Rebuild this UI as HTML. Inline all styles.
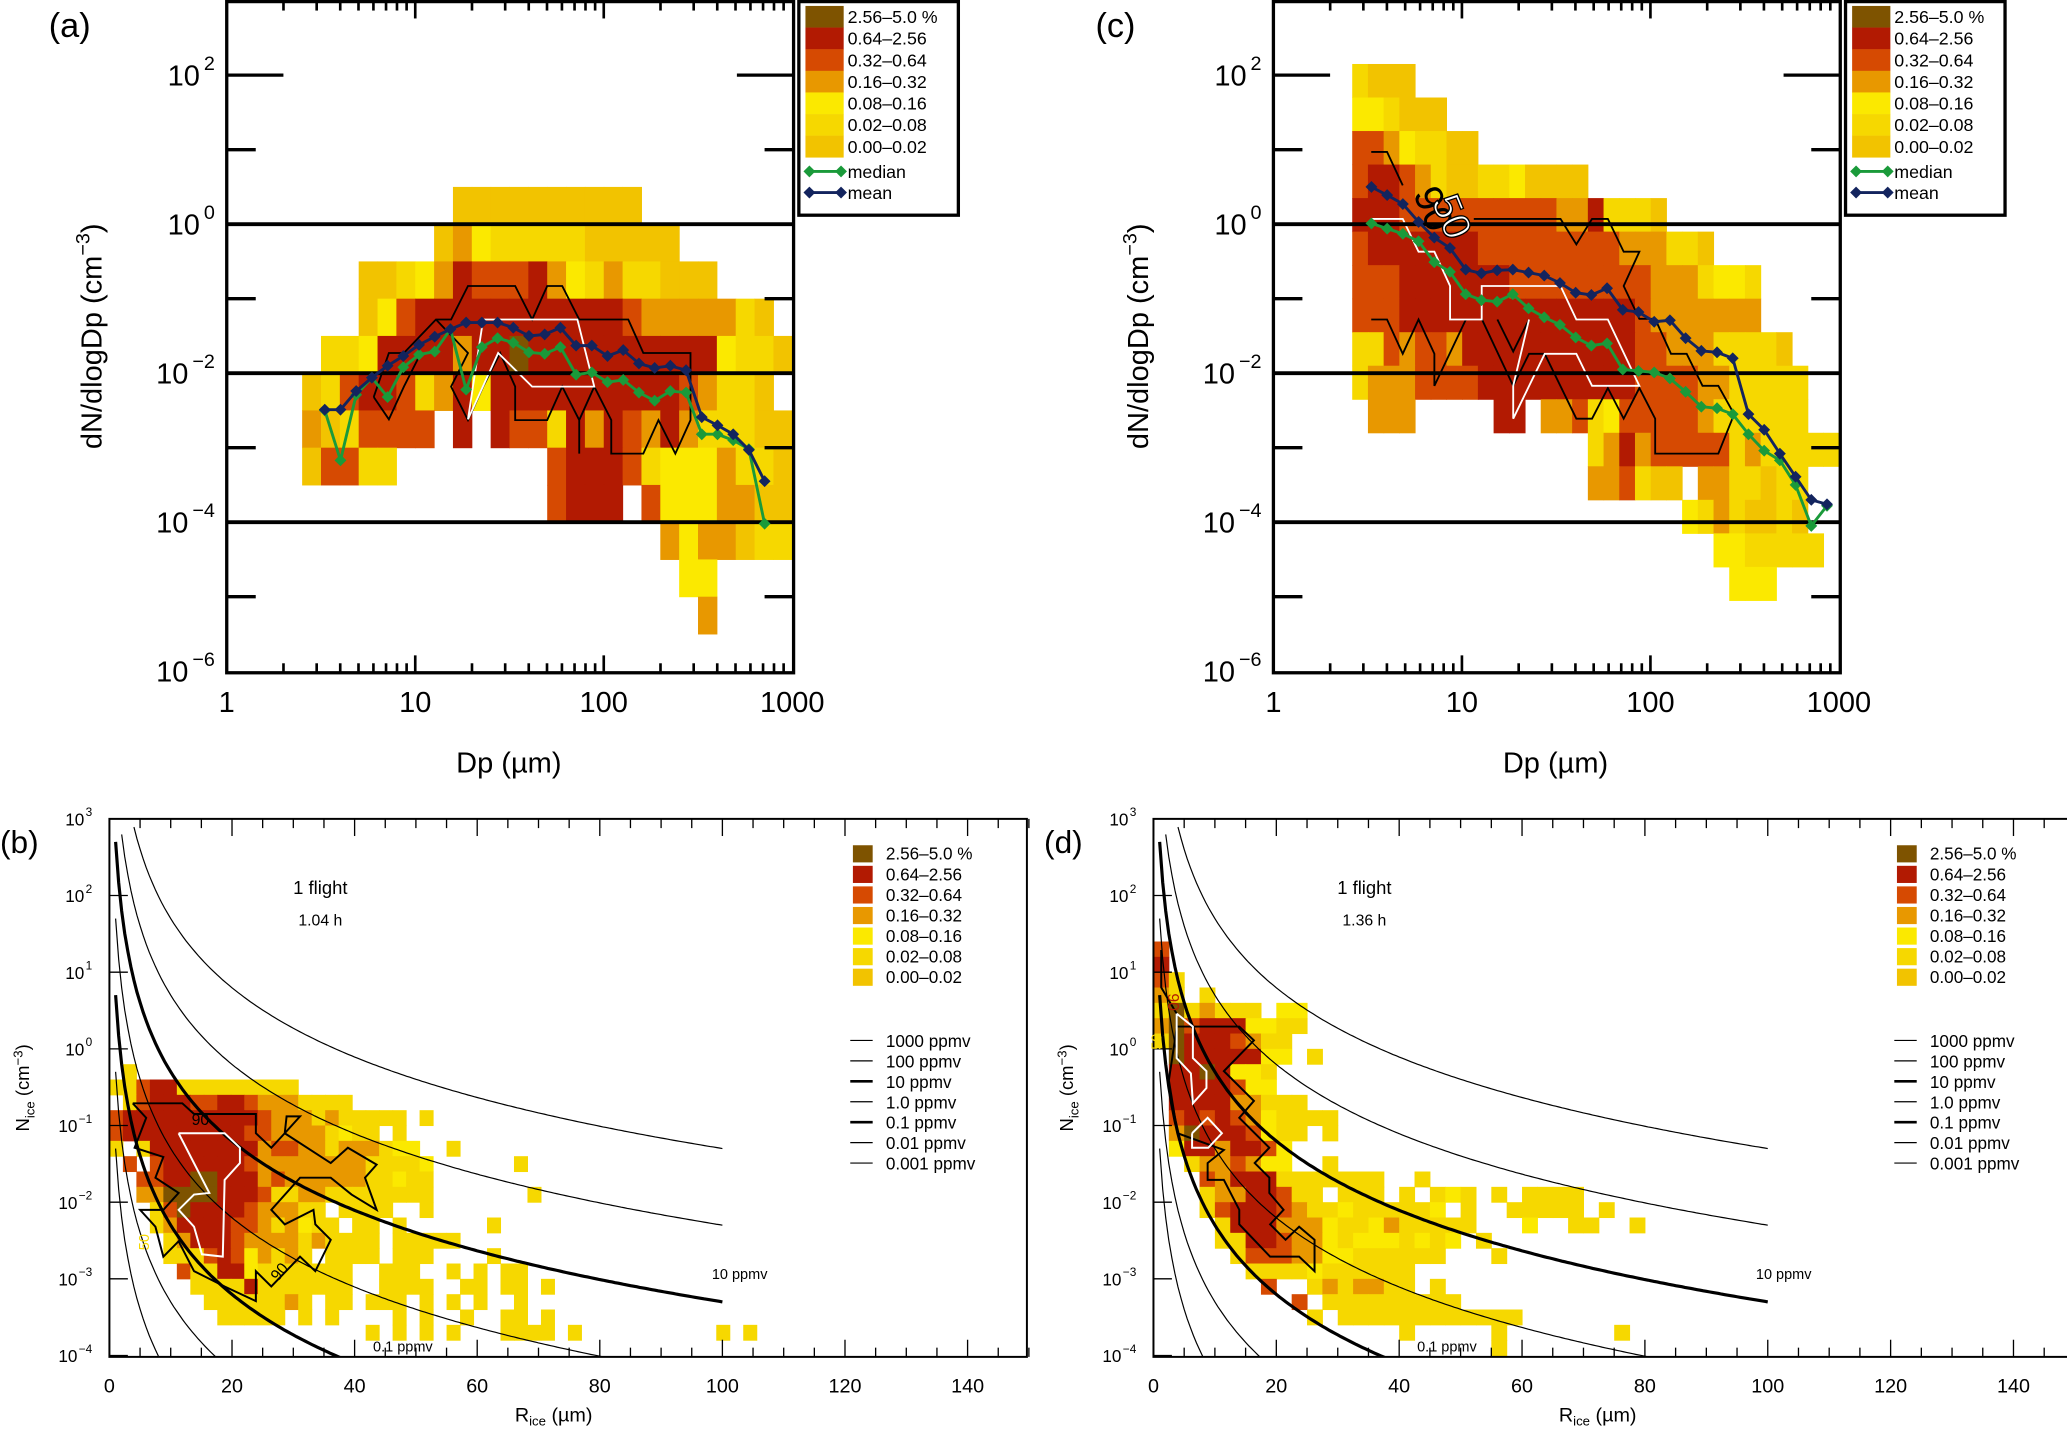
<!DOCTYPE html>
<html><head><meta charset="utf-8"><style>
html,body{margin:0;padding:0;background:#fff;width:2067px;height:1436px;overflow:hidden;}
svg{display:block;font-family:"Liberation Sans",sans-serif;}
</style></head><body>
<svg id="fig" width="2067" height="1436" viewBox="0 0 1568 1089" preserveAspectRatio="none" xmlns="http://www.w3.org/2000/svg">
<defs>
<clipPath id="clipA"><rect x="172" y="1" width="430" height="509"/></clipPath>
<clipPath id="clipC"><rect x="966" y="1" width="430" height="509"/></clipPath>
<clipPath id="clipB"><rect x="83" y="621" width="696" height="408"/></clipPath>
<clipPath id="clipD"><rect x="875" y="621" width="696" height="408"/></clipPath>
</defs>
</svg>
<script>
const colorClasses = ['0.00–0.02','0.02–0.08','0.08–0.16','0.16–0.32','0.32–0.64','0.64–2.56','2.56–5.0 %'];
const colorFills = ['#f2c300','#f6d800','#fbe900','#e89800','#d64a02','#b21a02','#7e5300'];
const heatRowsA = [
"........0000000000",
".......0321111100000",
"...0012354445321311000",
"...0245555555555543333310",
".1125555355655555555552110",
"0145541352555555555543110",
"3014444.5.5441535435311100",
"04411........4555412223110",
".............4555.42223300",
"...................3233011",
"....................22",
".....................3"];
const meanA = [-2.49,-2.49,-2.24,-2.06,-1.90,-1.77,-1.62,-1.51,-1.41,-1.32,-1.32,-1.32,-1.39,-1.50,-1.48,-1.39,-1.63,-1.63,-1.77,-1.69,-1.87,-1.93,-1.90,-1.96,-2.59,-2.70,-2.82,-3.03,-3.45];
const medianA = [-2.50,-3.17,-2.29,-2.06,-2.32,-1.92,-1.75,-1.71,-1.41,-2.22,-1.65,-1.53,-1.59,-1.72,-1.74,-1.65,-2.02,-1.99,-2.12,-2.09,-2.26,-2.37,-2.24,-2.26,-2.82,-2.82,-2.90,-3.02,-4.02];
const contour90A = [[0.78,-2.32],[0.86,-1.73],[0.94,-1.73],[1.11,-1.28],[1.19,-1.28],[1.28,-0.83],[1.53,-0.83],[1.62,-1.28],[1.70,-0.83],[1.78,-0.83],[1.87,-1.28],[2.13,-1.28],[2.21,-1.73],[2.46,-1.73],[2.46,-2.63],[2.38,-3.08],[2.29,-2.63],[2.21,-3.08],[2.04,-3.08],[2.04,-2.63],[1.95,-2.18],[1.87,-2.63],[1.87,-3.08],[1.87,-2.63],[1.78,-2.18],[1.70,-2.63],[1.53,-2.63],[1.53,-2.18],[1.45,-1.73],[1.36,-2.18],[1.28,-2.63],[1.19,-2.18],[1.28,-1.73],[1.11,-1.28]];
const contour90A2 = [[0.78,-2.32],[0.86,-2.62],[0.94,-2.18],[1.03,-1.73]];
const contour50A = [[1.28,-2.62],[1.36,-1.28],[1.86,-1.28],[1.95,-2.18],[1.62,-2.18],[1.44,-1.73],[1.28,-2.62]];
const heatRowsC = [
"1000",
"221000",
"44321100",
"455431001120000",
"55544444444443351110",
"45555555444444444333110",
"44455555554444444443331221",
"44455555555555555543333333",
"1143443555555555554433311110",
"13334444555555555544443311111",
".333.....55.33412444443111111",
"...............1353444441311111",
"...............334100.3311011",
".....................21310010",
".......................2211111",
"........................222"];
const meanC = [0.50,0.39,0.27,0.03,-0.18,-0.32,-0.61,-0.66,-0.62,-0.61,-0.65,-0.69,-0.79,-0.92,-0.95,-0.86,-1.15,-1.18,-1.31,-1.29,-1.53,-1.70,-1.72,-1.80,-2.55,-2.76,-3.08,-3.39,-3.70,-3.76];
const medianC = [0.01,-0.06,-0.13,-0.23,-0.51,-0.64,-0.94,-1.02,-1.04,-0.94,-1.13,-1.25,-1.35,-1.52,-1.63,-1.60,-1.95,-1.97,-1.99,-2.07,-2.25,-2.45,-2.47,-2.55,-2.82,-3.04,-3.17,-3.50,-4.05,-3.78];
const contour90C1 = [[0.519,0.97],[0.603,0.97],[0.686,0.52]];
const contour90C2 = [[1.063,0.07],[1.523,0.07],[1.607,-0.27],[1.690,0.07],[1.774,0.07],[1.858,-0.37],[1.941,-0.37],[1.858,-0.83],[1.941,-1.27],[2.025,-1.27],[2.109,-1.74],[2.192,-1.74],[2.276,-2.17],[2.360,-2.17],[2.444,-2.55],[2.360,-3.08],[2.025,-3.08],[2.025,-2.61],[1.941,-2.20],[1.858,-2.61],[1.774,-2.20],[1.690,-2.61],[1.607,-2.61],[1.439,-1.74],[1.356,-1.74],[1.272,-2.17],[1.105,-1.27]];
const contour90C3 = [[1.021,-1.28],[0.854,-2.17],[0.854,-1.74],[0.770,-1.28],[0.686,-1.74],[0.603,-1.28],[0.519,-1.28]];
const contour90C4 = [[1.188,-1.28],[1.272,-1.71],[1.356,-1.28]];
const contour50C = [[0.519,0.07],[0.686,0.07],[0.770,-0.37],[0.854,-0.37],[0.937,-0.83],[0.937,-1.28],[1.105,-1.28],[1.105,-0.83],[1.523,-0.83],[1.607,-1.28],[1.774,-1.28],[1.941,-2.17],[1.690,-2.17],[1.607,-1.74],[1.439,-1.74],[1.272,-2.61],[1.272,-2.17],[1.356,-1.28]];
const heatRowsB = [
".1",
"11455111111111",
".14555445543331111",
"4555555555543331311111.1",
"45555555554433331211.1",
"1.155555555344331333122..1",
".4.455555543333333311112......1",
"..4455665553433333311211",
"..3366665554113311111111.......1",
"...1465555433311.1111..1",
"...13555544313211.11.1......1",
"....1355543333131111.11111",
"....11145423131.1111.111....1",
".....4115521111111..111..1.1.11",
"......111151111111..1111..11.11.1",
".......11111131.11.111.1.1.1..1",
"........11111.1.1....1.1..1..11.1",
"...................1.1.1.1...1111.1..........1.1"];
const contour90B = [[3.8,-0.71],[11.9,-0.71],[13.8,-0.85],[23.9,-0.85],[23.9,-1.10],[26.4,-1.29],[28.6,-1.10],[28.9,-0.88],[31.1,-0.88],[28.6,-1.10],[36.1,-1.49],[38.9,-1.29],[43.6,-1.51],[41.7,-1.68],[43.6,-2.10],[39.5,-1.90],[36.1,-1.68],[31.1,-1.68],[26.4,-2.10],[28.6,-2.29],[33.3,-2.10],[33.6,-2.29],[36.1,-2.49],[33.6,-2.90],[31.1,-2.71],[26.4,-3.10],[23.9,-2.90],[23.9,-3.29],[18.8,-3.10],[13.8,-2.90],[11.3,-2.51],[8.8,-2.71],[7.5,-2.32],[5.0,-2.10],[8.8,-2.10],[11.3,-1.88],[7.5,-1.68],[8.8,-1.41],[4.1,-1.29],[6.0,-0.90],[3.8,-0.71]];
const contour50B = [[11.3,-1.10],[18.8,-1.10],[21.3,-1.29],[21.3,-1.49],[18.8,-1.71],[18.5,-2.71],[15.1,-2.68],[13.8,-2.32],[11.3,-2.10],[13.8,-1.90],[16.3,-1.88],[11.3,-1.10]];
const heatRowsD = [
"4","5","41","31.1","1613111.22","3645552211","165554311",".65555522.1",".5565221",".5555422",".555533111",".45454321111",".365554211.1",".25535542","..1334322..1","...435551111111..1",
"...13355411.111.1.121.1.1111","...1455543112111112.1..11111.1","....15553332112311111...2..11..1","....1155433212221212.1",".....14443322111111...1","......11112111111",".......4..1313311.1",".........4.111111111","..........1.111111111111","................1.....1.......1","......................1"];
const contour90D = [[1.26,1.29],[1.26,0.80],[3.77,0.46],[3.77,0.29],[13.96,0.29],[16.35,0.11],[11.45,-0.29],[16.35,-0.68],[13.96,-0.90],[18.87,-1.29],[16.48,-1.49],[18.87,-1.68],[18.87,-1.88],[21.19,-2.10],[18.99,-2.29],[21.5,-2.49],[23.71,-2.32],[26.23,-2.49],[26.23,-2.90],[23.71,-2.71],[18.99,-2.71],[13.96,-2.29],[13.96,-2.10],[11.45,-1.71],[8.81,-1.71],[8.81,-1.49],[11.45,-1.32],[3.90,-1.10],[2.52,-0.41],[3.77,0.27]];
const contour50D1 = [[3.77,0.46],[6.42,0.29],[6.42,-0.12],[8.62,-0.29],[8.62,-0.51],[6.42,-0.71],[6.1,-0.32],[3.77,-0.12],[3.77,0.46]];
const contour50D2 = [[6.29,-1.10],[8.81,-0.90],[11.13,-1.10],[8.93,-1.29],[6.29,-1.29],[6.29,-1.10]];
const ppmvLevels = [1000,100,10,1,0.1,0.01,0.001];
const ppmvLabels = ['1000 ppmv','100 ppmv','10 ppmv','1.0 ppmv','0.1 ppmv','0.01 ppmv','0.001 ppmv'];
const logTicksAC = [-6,-4,-2,0,2];
const xTicksAC = [1,10,100,1000];
const xTicksBD = [0,20,40,60,80,100,120,140];
const yTicksBD = [3,2,1,0,-1,-2,-3,-4];

const NS='http://www.w3.org/2000/svg';
const svg=document.getElementById('fig');
function mk(tag,attrs,parent){const e=document.createElementNS(NS,tag);for(const k in attrs)e.setAttribute(k,attrs[k]);(parent||svg).appendChild(e);return e;}
function grp(name,clip){const g=mk('g',clip?{'clip-path':'url(#'+clip+')'}:{});return g;}
function txt(parent,x,y,s,size,anchor,extra){const t=mk('text',Object.assign({x:x,y:y,'font-size':size,'text-anchor':anchor||'start',fill:'#000'},extra||{}),parent);t.textContent=s;return t;}

const xA=ld=>172+143*ld, xC=ld=>966+143*ld, yAC=ln=>170-56.5*ln;
const xB=r=>83+4.65*r, xD=r=>875+4.66*r, yBD=ln=>795.4-58.14*ln;

function drawGrid(g,rows,x0,dx,y0,dy,fx,fy,maxCols){
  rows.forEach((row,r)=>{
    for(let c=0;c<Math.min(row.length,maxCols);c++){
      const ch=row[c]; if(ch==='.')continue;
      const xa=fx(x0+c*dx), xb=fx(x0+(c+1)*dx), ya=fy(y0-r*dy), yb=fy(y0-(r+1)*dy);
      const rc=mk('rect',{x:xa,y:ya,width:xb-xa+0.4,height:yb-ya+0.4,fill:colorFills[+ch]},g);
      
      
    }
  });
}
function poly(g,pts,fx,fy,stroke,w,name){
  const p=mk('polyline',{points:pts.map(q=>fx(q[0]).toFixed(1)+','+fy(q[1]).toFixed(1)).join(' '),fill:'none',stroke:stroke,'stroke-width':w,'stroke-linejoin':'miter'},g);
  
  
  return p;
}
function series(g,vals,start,step,fx,fy,color,name){
  const pts=vals.map((v,i)=>[start+i*step,v]);
  poly(g,pts,fx,fy,color,2.2,name+'-line');
  pts.forEach(q=>{const x=fx(q[0]),y=fy(q[1]);
    const d=mk('polygon',{points:`${x},${y-4.5} ${x+4.5},${y} ${x},${y+4.5} ${x-4.5},${y}`,fill:color},g);
    
    
  });
}

function panelAC(label,fx,left,heatRows,hx0,hdx,hy0,hdy,maxCols,mean,median,c90,c50,legendX,extras){
  const g=grp('panel-'+label);
  const clip=label==='a'?'clipA':'clipC';
  const hm=grp('heatmap-'+label,clip); g.appendChild(hm);
  drawGrid(hm,heatRows,hx0,hdx,hy0,hdy,fx,yAC,maxCols);
  const cg=grp('contours-'+label,clip); g.appendChild(cg);
  c90.forEach(c=>poly(cg,c,fx,yAC,'#000',1.4,'contour-90'));
  c50.forEach(c=>poly(cg,c,fx,yAC,'#fff',1.4,'contour-50'));
  [0,-2,-4].forEach(v=>{const l=mk('line',{x1:left,x2:left+430,y1:yAC(v),y2:yAC(v),stroke:'#000','stroke-width':3},g);
    
    });
  if(extras)extras(g);
  const sg=grp('series-'+label,clip); g.appendChild(sg);
  series(sg,median,0.52,1/12,fx,yAC,'#1a9a3a','median');
  series(sg,mean,0.52,1/12,fx,yAC,'#13245e','mean');
  const fr=mk('rect',{x:left,y:1.2,width:430,height:509,fill:'none',stroke:'#000','stroke-width':2.5},g);
  
  
  [2,1,-1,-3,-5].forEach(v=>{const L=v===2?43:22;
    const a=mk('line',{x1:left,x2:left+L,y1:yAC(v),y2:yAC(v),stroke:'#000','stroke-width':2.5},g);
    
    
    const b=mk('line',{x1:left+430-L,x2:left+430,y1:yAC(v),y2:yAC(v),stroke:'#000','stroke-width':2.5},g);
    
    });
  for(let d=0;d<3;d++)for(let m=1;m<=9;m++){const ld=d+Math.log10(m);if(m===1&&d===0)continue;
    const L=m===1?13:7,x=fx(ld);
    const t1=mk('line',{x1:x,x2:x,y1:510,y2:510-L,stroke:'#000','stroke-width':2},g);
    
    
    const t2=mk('line',{x1:x,x2:x,y1:1,y2:1+L,stroke:'#000','stroke-width':2},g);
    
    }
  xTicksAC.forEach(v=>{const t=txt(g,fx(Math.log10(v)),540,String(v),22,'middle');
    
    });
  logTicksAC.forEach(v=>{const t=txt(g,left-9,yAC(v)+8,'10',22,'end');
    const s=mk('tspan',{dx:3,dy:-12,'font-size':15},t); s.textContent=v<0?'−'+(-v):String(v);
    
    });
  const pl=txt(g,left-135,28,'('+label+')',26,'start');
  
  
  const yl=txt(g,0,0,'dN/dlogDp (cm',22,'middle',{transform:`translate(${left-95},255) rotate(-90)`});
  const ys=mk('tspan',{dy:-9,'font-size':15},yl); ys.textContent='−3';
  const ys2=mk('tspan',{dy:9},yl); ys2.textContent=')';
  
  
  const xl=txt(g,left+214,586,'Dp (µm)',22,'middle');
  
  
  const lg=grp('legend-'+label); g.appendChild(lg);
  const lb=mk('rect',{x:legendX,y:1.2,width:121,height:162,fill:'#fff',stroke:'#000','stroke-width':2.5},lg);
  
  
  for(let i=0;i<7;i++){const ci=6-i;
    const sw=mk('rect',{x:legendX+5,y:4.5+i*16.4,width:29,height:16.6,fill:colorFills[ci]},lg);
    
    
    const t=txt(lg,legendX+37,17.5+i*16.4,colorClasses[ci],13.5,'start');
    
    }
  [['median','#1a9a3a',130],['mean','#13245e',146]].forEach(s=>{
    const l=mk('line',{x1:legendX+8,x2:legendX+32,y1:s[2],y2:s[2],stroke:s[1],'stroke-width':2.2},lg);
    
    
    [legendX+8,legendX+32].forEach(x=>{const d=mk('polygon',{points:`${x},${s[2]-4.5} ${x+4.5},${s[2]} ${x},${s[2]+4.5} ${x-4.5},${s[2]}`,fill:s[1]},lg);
      
      });
    const t=txt(lg,legendX+37,s[2]+5,s[0],13.5,'start');
    
    
  });
}
panelAC('a',xA,172,heatRowsA,0.4,0.1,0.5,0.5,26,meanA,medianA,[contour90A,contour90A2],[contour50A],606,null);
panelAC('c',xC,966,heatRowsC,0.418,1/12,2.15,0.45,31,meanC,medianC,[contour90C1,contour90C2,contour90C3,contour90C4],[contour50C],1400,function(g){
  const t1=txt(g,0,0,'90',30,'middle',{transform:'translate(1078,162) rotate(68)'});
  
  
  const t2=txt(g,0,0,'50',30,'middle',{transform:'translate(1092,168) rotate(68)',fill:'#fff',stroke:'#000','stroke-width':1});
  
  
});

function panelBD(label,fx,left,heatRows,hy0,hdx,c90,c50,hours,legendX,labels){
  const g=grp('panel-'+label);
  const clip=label==='b'?'clipB':'clipD';
  const hm=grp('heatmap-'+label,clip); g.appendChild(hm);
  drawGrid(hm,heatRows,0,hdx,hy0,0.2,fx,yBD,60);
  const cg=grp('ppmv-curves-'+label,clip); g.appendChild(cg);
  ppmvLevels.forEach((p,i)=>{const pts=[];
    for(let r=1;r<=100;r+=0.5){const v=-3.3+3*(2-Math.log10(r))+Math.log10(p/10);
      if(v<=3.05&&v>=-4.05)pts.push([r,v]);}
    if(pts.length<2)return;
    const thick=(p===10||p===0.1);
    poly(cg,pts,fx,yBD,'#000',thick?2.4:0.9,'ppmv-curve-'+ppmvLabels[i].replace(/[ .]/g,''));});
  const kg=grp('contours-'+label,clip); g.appendChild(kg);
  c90.forEach(c=>poly(kg,c,fx,yBD,'#000',1.5,'contour-90'));
  c50.forEach(c=>poly(kg,c,fx,yBD,'#fff',1.5,'contour-50'));
  const fr=mk('rect',{x:left,y:621,width:696,height:408,fill:'none',stroke:'#000','stroke-width':1.5},g);
  
  
  for(let v=0;v<=150;v+=5){const x=fx(v),L=(v%20===0)?13:7;
    const t1=mk('line',{x1:x,x2:x,y1:1029,y2:1029-L,stroke:'#000','stroke-width':1},g);
    
    
    const t2=mk('line',{x1:x,x2:x,y1:621,y2:621+L,stroke:'#000','stroke-width':1},g);
    
    }
  xTicksBD.forEach(v=>{const t=txt(g,fx(v),1056,String(v),15,'middle');
    
    });
  yTicksBD.forEach(v=>{const y=yBD(v);
    const tk=mk('line',{x1:left,x2:left+14,y1:y,y2:y,stroke:'#000','stroke-width':1},g);
    
    
    const t=txt(g,left-13,y+5,'10',13,'end');
    const s=mk('tspan',{dx:1,dy:-7,'font-size':9},t); s.textContent=v<0?'−'+(-v):String(v);
    
    });
  const pl=txt(g,left-83,647,'('+label+')',24,'start');
  
  
  const yl=txt(g,0,0,'N',14,'middle',{transform:`translate(${left-61},825) rotate(-90)`});
  const a1=mk('tspan',{dy:4,'font-size':10},yl); a1.textContent='ice';
  const a2=mk('tspan',{dy:-4},yl); a2.textContent=' (cm';
  const a3=mk('tspan',{dy:-5,'font-size':10},yl); a3.textContent='−3';
  const a4=mk('tspan',{dy:5},yl); a4.textContent=')';
  
  
  const xl=txt(g,left+337,1078,'R',15,'middle');
  const b1=mk('tspan',{dy:3,'font-size':10},xl); b1.textContent='ice';
  const b2=mk('tspan',{dy:-3},xl); b2.textContent=' (µm)';
  
  
  const f1=txt(g,left+160,678,'1 flight',14,'middle');
  
  
  const f2=txt(g,left+160,702,hours,12,'middle');
  
  
  const l10=txt(g,left+457,970,'10 ppmv',11,'start');
  
  
  const l01=txt(g,left+200,1025,'0.1 ppmv',11,'start');
  
  
  labels(g);
  const lg=grp('legend-'+label); g.appendChild(lg);
  for(let i=0;i<7;i++){const ci=6-i;
    const sw=mk('rect',{x:legendX,y:641+i*15.6,width:15,height:13,fill:colorFills[ci]},lg);
    
    
    const t=txt(lg,legendX+25,652+i*15.6,colorClasses[ci],13,'start');
    
    }
  ppmvLabels.forEach((s,i)=>{const y=789+i*15.5,thick=(ppmvLevels[i]===10||ppmvLevels[i]===0.1);
    const l=mk('line',{x1:legendX-2,x2:legendX+15,y1:y,y2:y,stroke:'#000','stroke-width':thick?2:0.9},lg);
    
    
    const t=txt(lg,legendX+25,y+5,s,13,'start');
    
    });
}
panelBD('b',xB,83,heatRowsB,-0.2,2.2,[contour90B],[contour50B],'1.04 h',647,function(g){
  const t=txt(g,152,853,'90',12,'middle');  
  const t2=txt(g,0,0,'90',12,'middle',{transform:'translate(215,967) rotate(-50)'});  
  const t3=txt(g,0,0,'50',11,'middle',{transform:'translate(113,942) rotate(-90)',fill:'#f6d800'});  
});
panelBD('d',xD,875,heatRowsD,1.4,2.5,[contour90D],[contour50D1,contour50D2],'1.36 h',1439,function(g){
  const t=txt(g,0,0,'90',12,'middle',{transform:'translate(886,760) rotate(90)',fill:'#b21a02'});  
  const t3=txt(g,0,0,'50',11,'middle',{transform:'translate(881,790) rotate(-90)',fill:'#f6d800'});  
});
</script>
</body></html>
